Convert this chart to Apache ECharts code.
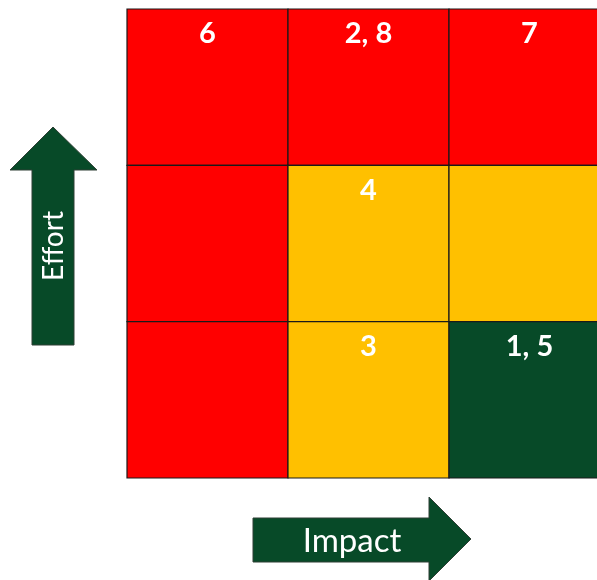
<!DOCTYPE html>
<html>
<head>
<meta charset="utf-8">
<script src="https://cdn.jsdelivr.net/npm/echarts@6/dist/echarts.min.js"></script>
<style>
  html, body { margin: 0; padding: 0; background: #fff; }
  #matrix { width: 597px; height: 580px; }
</style>
</head>
<body>
<div id="matrix"></div>
<script>
// impact runs left -> right, effort runs bottom -> top
const impactLevels = ['Low', 'Medium', 'High'];
const effortLevels = ['Low', 'Medium', 'High'];

// one entry per cell: [impact index, effort index]
const cellPos = [
  [0, 2], [1, 2], [2, 2],
  [0, 1], [1, 1], [2, 1],
  [0, 0], [1, 0], [2, 0]
];
const cellZone = [
  'red', 'red', 'red',
  'red', 'amber', 'amber',
  'red', 'amber', 'green'
];
const cellItems = [
  '6', '2, 8', '7',
  '', '4', '',
  '', '3', '1, 5'
];

const zoneColors = { red: '#ff0000', amber: '#ffc000', green: '#074a28' };
const arrowColor = '#074a28';

let chart = echarts.init(document.getElementById('matrix'));

const option = {
  animation: false,
  // grid runs past the right edge of the page, like the original slide
  grid: { left: 127, top: 9, width: 483, height: 469, outerBoundsMode: 'none', containLabel: false },
  xAxis: {
    type: 'category',
    data: impactLevels,
    show: false
  },
  yAxis: {
    type: 'category',
    data: effortLevels,
    show: false
  },
  graphic: [
    // Effort arrow (up)
    {
      type: 'polygon',
      shape: {
        points: [[53, 127], [97, 170], [74, 170], [74, 345], [32, 345], [32, 170], [10, 170]]
      },
      style: { fill: arrowColor, stroke: '#2f3f35', lineWidth: 1 }
    },
    {
      type: 'text',
      x: 54,
      y: 246,
      rotation: Math.PI / 2,
      style: {
        text: 'Effort',
        fill: '#fff',
        font: '28px Lato',
        align: 'center',
        verticalAlign: 'middle'
      }
    },
    // Impact arrow (right)
    {
      type: 'polygon',
      shape: {
        points: [[253, 518], [429, 518], [429, 497], [471, 539], [429, 581], [429, 562], [253, 562]]
      },
      style: { fill: arrowColor, stroke: '#2f3f35', lineWidth: 1 }
    },
    {
      type: 'text',
      x: 352,
      y: 541,
      style: {
        text: 'Impact',
        fill: '#fff',
        font: '33px Lato',
        align: 'center',
        verticalAlign: 'middle'
      }
    }
  ],
  series: [
    {
      type: 'custom',
      clip: false,
      data: cellPos.map((p, i) => [p[0], p[1], i]),
      renderItem: function (params, api) {
        const idx = api.value(2);
        const c = api.coord([api.value(0), api.value(1)]);
        const s = api.size([1, 1]);
        const x0 = c[0] - s[0] / 2;
        const y0 = c[1] - s[1] / 2;
        return {
          type: 'group',
          children: [
            {
              type: 'rect',
              shape: { x: x0, y: y0, width: s[0], height: s[1] },
              style: { fill: zoneColors[cellZone[idx]], stroke: '#1a1a1a', lineWidth: 1.2 }
            },
            {
              type: 'text',
              x: c[0],
              y: y0 + 25,
              style: {
                text: cellItems[idx],
                fill: '#fff',
                font: 'bold 29px Lato',
                align: 'center',
                verticalAlign: 'middle'
              }
            }
          ]
        };
      }
    }
  ]
};

chart.setOption(option, true);
</script>
</body>
</html>
